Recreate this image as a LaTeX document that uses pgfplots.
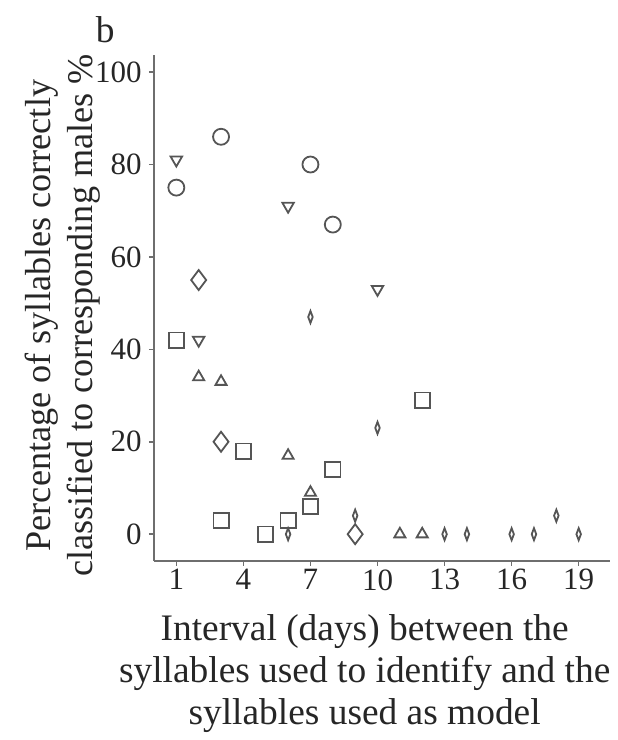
\documentclass[border=0pt]{standalone}
\usepackage{fontspec}
\setmainfont{Liberation Serif}
\usepackage{pgfplots}
\pgfplotsset{compat=1.18}
\definecolor{mk}{RGB}{85,85,85}
\definecolor{ax}{RGB}{110,110,110}

\begin{document}
\begin{tikzpicture}
\begin{axis}[
  width=228pt, height=253pt, scale only axis,
  xmin=0, xmax=20.4, ymin=-5.8, ymax=103.7,
  axis lines=left,
  axis line style={-, ax, line width=1pt},
  xtick={1,4,7,10,13,16,19},
  ytick={0,20,40,60,80,100},
  tick style={ax, line width=0.8pt},
  tick align=outside,
  major tick length=2.5pt,
  /pgf/number format/assume math mode=true,
  tick label style={font=\fontsize{15.5}{18}\selectfont, black!85},
  xticklabel style={inner sep=1.5pt},
  yticklabel style={inner sep=1pt, xshift=-2.5pt},
  label style={font=\fontsize{18.7}{21}\selectfont, black!85, align=center},
  xlabel={Interval (days) between the\\syllables used to identify and the\\syllables used as model},
  ylabel={Percentage of syllables correctly\\classified to corresponding males \%},
  xlabel style={at={(rel axis cs:0.462,-0.222)}, anchor=center},
  ylabel style={font=\fontsize{18.1}{21}\selectfont, at={(rel axis cs:-0.2,0.485)}, anchor=center},
  every axis plot/.append style={only marks, mk, line width=0.9pt},
  clip=false,
]
% circles
\addplot[mark=o, mark size=4pt] coordinates {(1,75)(3,86)(7,80)(8,67)};
% down triangles
\addplot[mark=triangle, mark size=3.3pt, mark options={rotate=180}] coordinates {(1,81)(6,71)(10,53)(2,42)};
% large diamonds
\addplot[mark=diamond, mark size=5pt] coordinates {(2,55)(3,20)(9,0)};
% squares
\addplot[mark=square, mark size=3.8pt] coordinates {(1,42)(4,18)(3,3)(5,0)(6,3)(7,6)(8,14)(12,29)};
% up triangles
\addplot[mark=triangle, mark size=3.2pt] coordinates {(2,34)(3,33)(6,17)(7,9)(11,0)(12,0)};
% small thin diamonds
\addplot[mark=diamond, mark size=3pt, mark options={xscale=0.5}] coordinates {(7,47)(10,23)(6,0)(9,4)(13,0)(14,0)(16,0)(17,0)(18,4)(19,0)};
\node[font=\fontsize{18.7}{21}\selectfont, black!85] at (rel axis cs:-0.107,1.05) {b};
\coordinate (bl) at (rel axis cs:-0.3377,-0.3538);
\coordinate (tr) at (rel axis cs:1.0175,1.1087);
\end{axis}
\pgfresetboundingbox
\path[use as bounding box] (bl) rectangle (tr);
\end{tikzpicture}
\end{document}
